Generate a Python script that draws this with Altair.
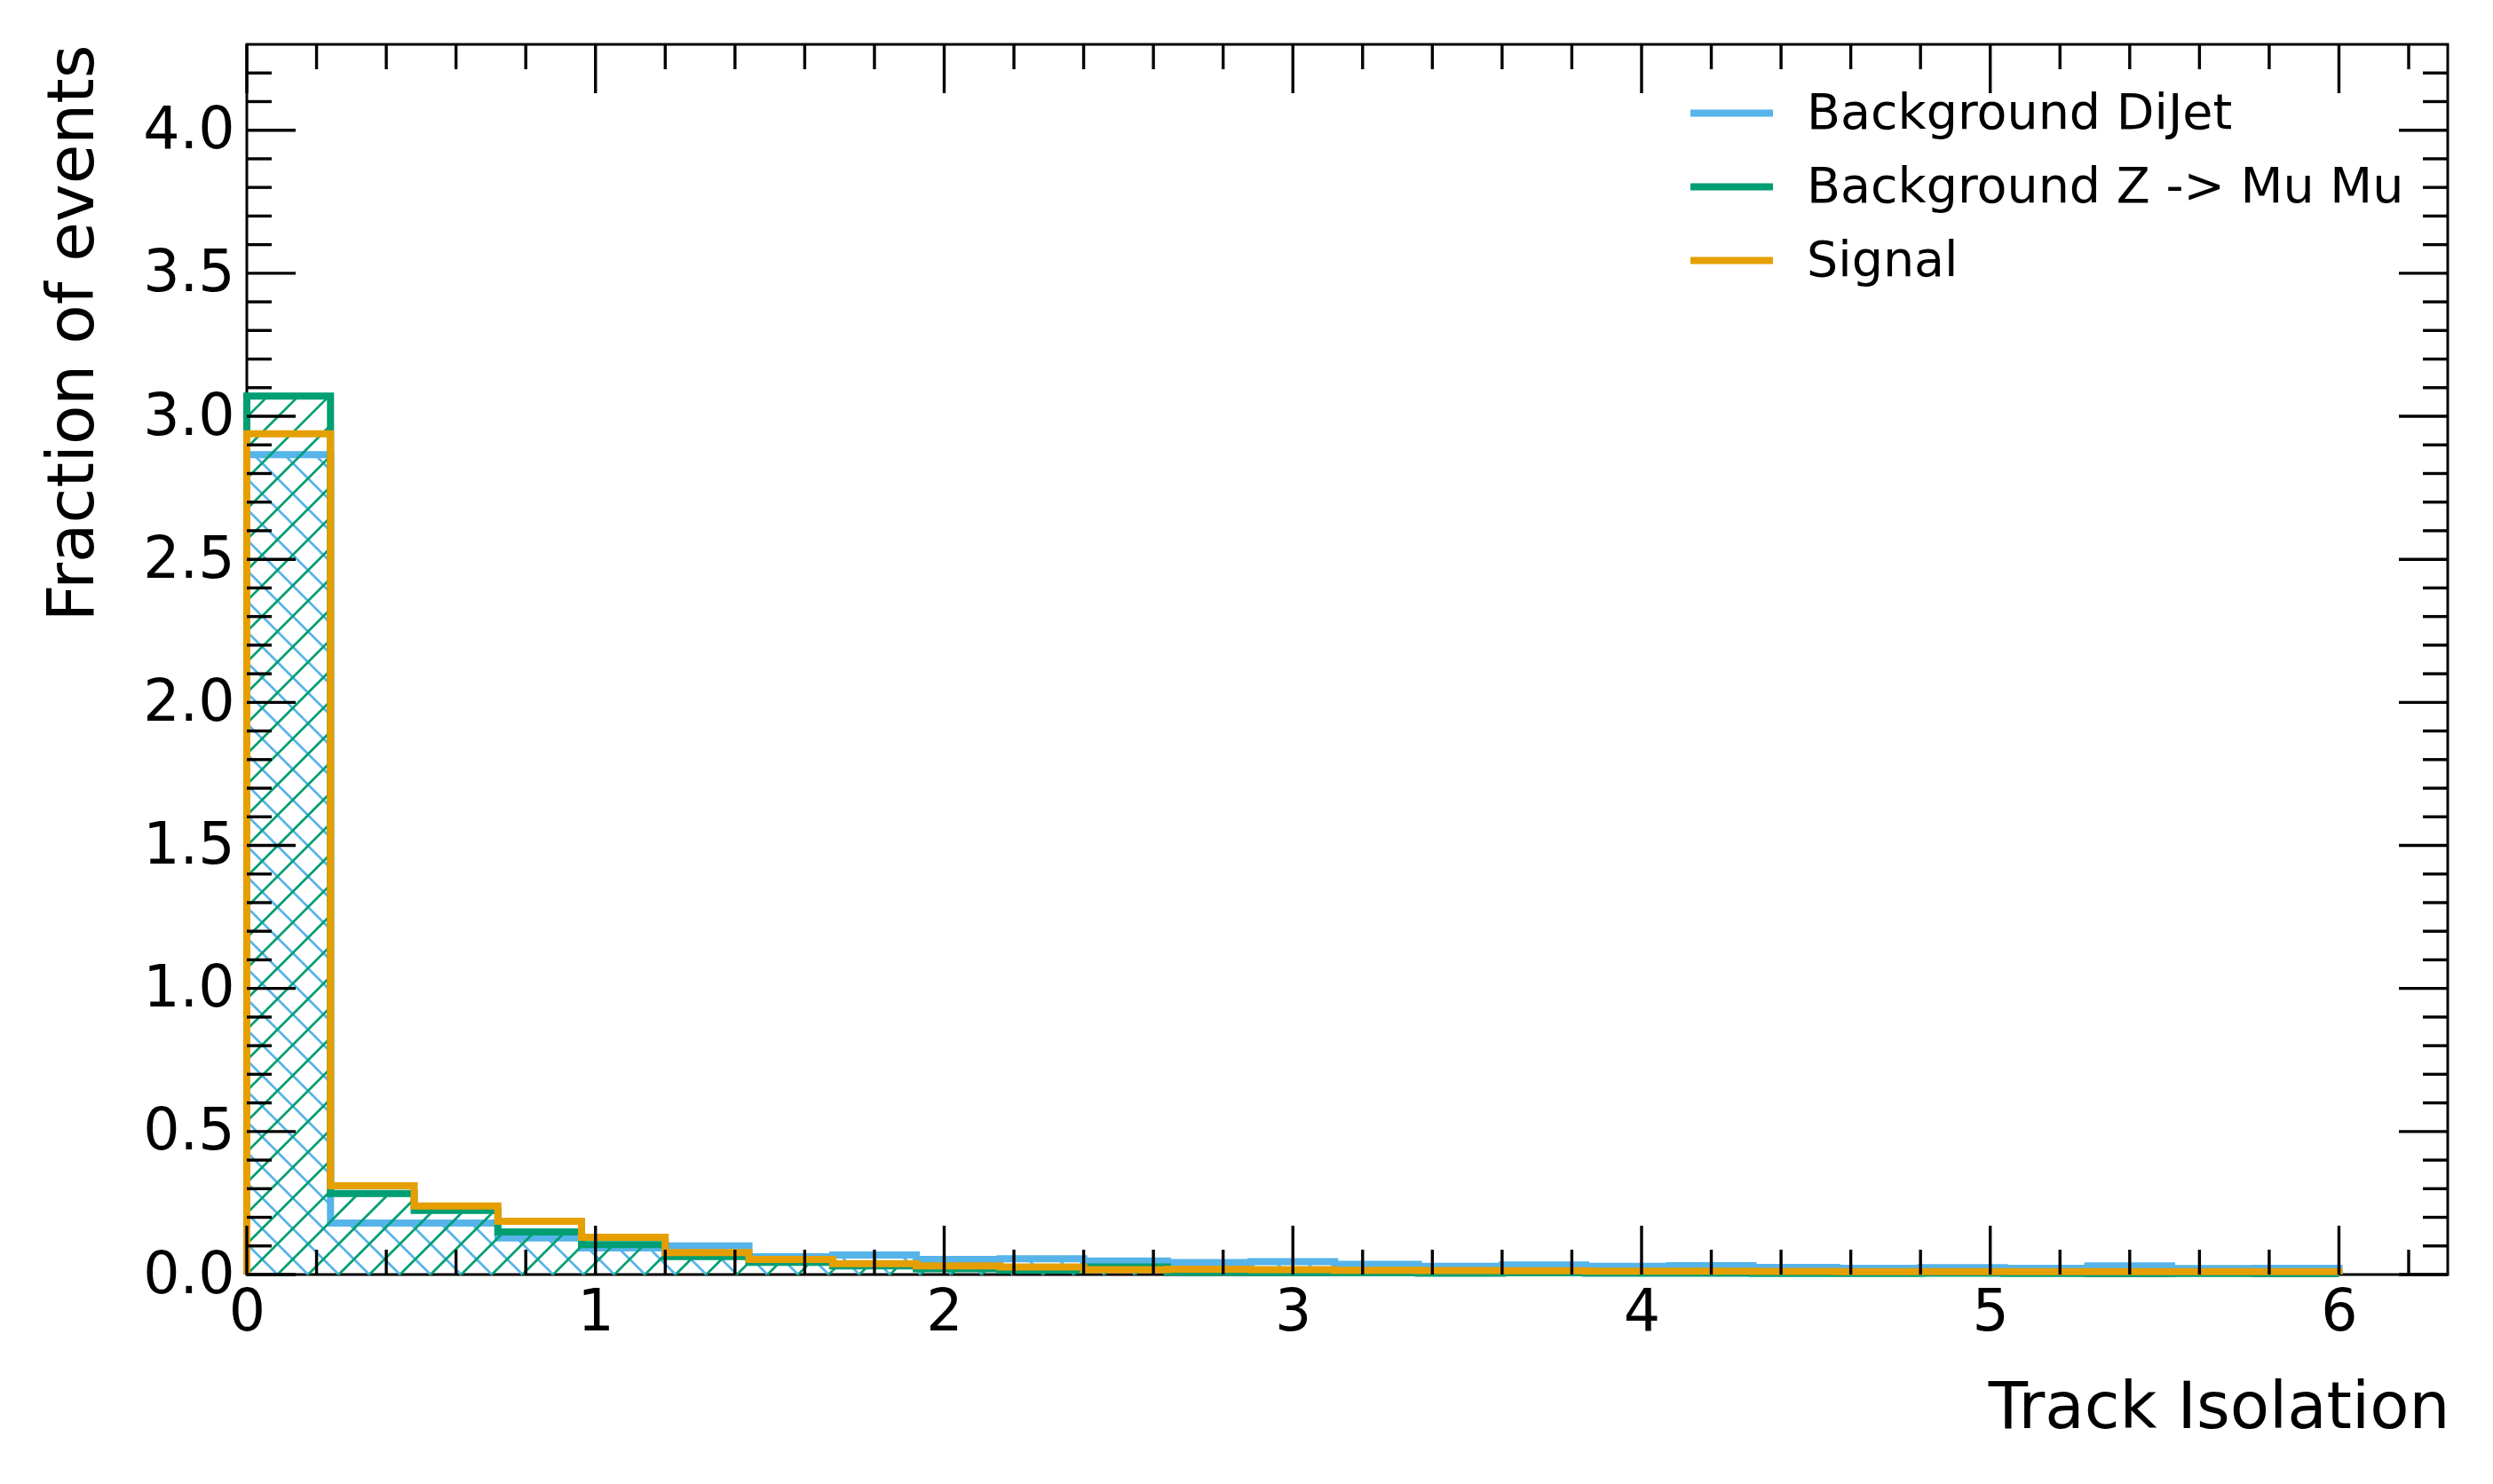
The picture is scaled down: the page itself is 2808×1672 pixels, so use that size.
import math
import altair as alt
import pandas as pd

# ---------------- data ----------------
bin_edges = [0.00, 0.24, 0.48, 0.72, 0.96, 1.20, 1.44, 1.68, 1.92, 2.16, 2.40,
             2.64, 2.88, 3.12, 3.36, 3.60, 3.84, 4.08, 4.32, 4.56, 4.80,
             5.04, 5.28, 5.52, 5.76, 6.00]

dijet = [2.866, 0.180, 0.180, 0.128, 0.093, 0.100, 0.062, 0.068, 0.053, 0.055,
         0.047, 0.042, 0.045, 0.036, 0.029, 0.033, 0.029, 0.031, 0.025, 0.022,
         0.024, 0.022, 0.030, 0.021, 0.022]
zmumu = [3.071, 0.283, 0.224, 0.149, 0.105, 0.063, 0.043, 0.030, 0.020, 0.015,
         0.026, 0.008, 0.007, 0.006, 0.005, 0.006, 0.005, 0.005, 0.004, 0.004,
         0.005, 0.004, 0.003, 0.004, 0.003]
signal = [2.939, 0.310, 0.240, 0.186, 0.130, 0.077, 0.053, 0.038, 0.030, 0.026,
          0.017, 0.019, 0.017, 0.015, 0.014, 0.013, 0.012, 0.012, 0.011, 0.010,
          0.010, 0.010, 0.010, 0.010, 0.010]

names = ["Background DiJet", "Background Z -> Mu Mu", "Signal"]
colors = ["#56B4E9", "#009E73", "#E69F00"]

x_major = [0, 1, 2, 3, 4, 5, 6]
x_minor = [0.2, 0.4, 0.6, 0.8, 1.2, 1.4, 1.6, 1.8, 2.2, 2.4, 2.6, 2.8,
           3.2, 3.4, 3.6, 3.8, 4.2, 4.4, 4.6, 4.8, 5.2, 5.4, 5.6, 5.8, 6.2]
y_major = [0.0, 0.5, 1.0, 1.5, 2.0, 2.5, 3.0, 3.5, 4.0]
y_minor = [0.1, 0.2, 0.3, 0.4, 0.6, 0.7, 0.8, 0.9, 1.1, 1.2, 1.3, 1.4,
           1.6, 1.7, 1.8, 1.9, 2.1, 2.2, 2.3, 2.4, 2.6, 2.7, 2.8, 2.9,
           3.1, 3.2, 3.3, 3.4, 3.6, 3.7, 3.8, 3.9, 4.1, 4.2]

X_MAX = 6.312
Y_MAX = 4.3

# ---------------- layout / style ----------------
W = 2479
H = 1386
FONT = "DejaVu Sans"
LW = 8
HATCH_W = 2.7
HATCH_SPACING = 34.5
TICK_MAJ = 55
TICK_MIN = 28
TICK_W = 3.4

sx = W / X_MAX
sy = H / Y_MAX

xs = alt.Scale(domain=[0, X_MAX], nice=False, zero=False)
ys = alt.Scale(domain=[0, Y_MAX], nice=False, zero=False)
cs = alt.Scale(domain=names, range=colors)

XAX = alt.Axis(
    values=x_major, format="d", labelFont=FONT, labelFontSize=65,
    labelColor="black", labelPadding=11, labelFlush=False,
    ticks=False, domain=False, grid=False,
    title="Track Isolation", titleFont=FONT, titleFontSize=72.5,
    titleFontWeight="normal", titleColor="black",
    titleAlign="right", titleBaseline="alphabetic",
    titleX=W + 2, titleY=172,
)
YAX = alt.Axis(
    values=y_major, format=".1f", labelFont=FONT, labelFontSize=65,
    labelColor="black", labelPadding=14, labelFlush=False,
    ticks=False, domain=False, grid=False,
    title="Fraction of events", titleFont=FONT, titleFontSize=72.5,
    titleFontWeight="normal", titleColor="black",
    titleAngle=270, titleAlign="right", titleBaseline="alphabetic",
    titleX=-174, titleY=0,
)


def outline_df(vals, name):
    rows = [{"x": 0.0, "y": 0.0, "o": 0, "series": name}]
    for i, v in enumerate(vals):
        rows.append({"x": bin_edges[i], "y": v, "o": i + 1, "series": name})
    rows.append({"x": bin_edges[-1], "y": 0.0, "o": len(vals) + 1, "series": name})
    return pd.DataFrame(rows)


def hatch_df(vals, direction):
    s = HATCH_SPACING
    segs = []
    for i, v in enumerate(vals):
        a = bin_edges[i] * sx
        b = bin_edges[i + 1] * sx
        t = v * sy
        if direction == "/":
            for k in range(math.floor((a - t) / s) - 1, math.ceil(b / s) + 2):
                c = k * s
                lo = max(0.0, a - c)
                hi = min(t, b - c)
                if hi > lo:
                    segs.append((lo + c, lo, hi + c, hi))
        else:
            for k in range(math.floor(a / s) - 1, math.ceil((b + t) / s) + 2):
                c = k * s
                lo = max(0.0, c - b)
                hi = min(t, c - a)
                if hi > lo:
                    segs.append((c - lo, lo, c - hi, hi))
    return pd.DataFrame(
        [{"x": p[0] / sx, "y": p[1] / sy, "x2": p[2] / sx, "y2": p[3] / sy} for p in segs]
    )


def hatch_layer(vals, direction, color):
    return alt.Chart(hatch_df(vals, direction)).mark_rule(
        color=color, strokeWidth=HATCH_W, strokeCap="butt"
    ).encode(
        x=alt.X("x:Q", scale=xs, axis=XAX),
        y=alt.Y("y:Q", scale=ys, axis=YAX),
        x2="x2:Q",
        y2="y2:Q",
    )


legend = alt.Legend(
    title=None,
    orient="none",
    legendX=1622,
    legendY=27,
    symbolType="stroke",
    symbolSize=8649,
    symbolStrokeWidth=8,
    labelFont=FONT,
    labelFontSize=55.5,
    labelOffset=34,
    labelLimit=2000,
    rowPadding=4,
    padding=0,
)


def outline_layer(vals, name):
    return alt.Chart(outline_df(vals, name)).mark_line(
        interpolate="step-after", strokeWidth=LW, strokeJoin="miter"
    ).encode(
        x=alt.X("x:Q", scale=xs, axis=XAX),
        y=alt.Y("y:Q", scale=ys, axis=YAX),
        order=alt.Order("o:Q"),
        color=alt.Color("series:N", scale=cs, legend=legend),
    )


def tick_layers(vals, length, axis_dir):
    df = pd.DataFrame({"v": vals})
    base = alt.Chart(df).mark_rule(color="black", strokeWidth=TICK_W, strokeCap="butt")
    if axis_dir == "x":
        bottom = base.encode(x=alt.X("v:Q", scale=xs, axis=XAX),
                             y=alt.value(H), y2=alt.value(H - length))
        top = base.encode(x=alt.X("v:Q", scale=xs, axis=XAX),
                          y=alt.value(0), y2=alt.value(length))
        return [bottom, top]
    left = base.encode(y=alt.Y("v:Q", scale=ys, axis=YAX),
                       x=alt.value(0), x2=alt.value(length))
    right = base.encode(y=alt.Y("v:Q", scale=ys, axis=YAX),
                        x=alt.value(W), x2=alt.value(W - length))
    return [left, right]


layers = [
    hatch_layer(dijet, "\\", colors[0]),
    outline_layer(dijet, names[0]),
    hatch_layer(zmumu, "/", colors[1]),
    outline_layer(zmumu, names[1]),
    outline_layer(signal, names[2]),
]
layers += tick_layers(x_major, TICK_MAJ, "x")
layers += tick_layers(x_minor, TICK_MIN, "x")
layers += tick_layers(y_major, TICK_MAJ, "y")
layers += tick_layers(y_minor, TICK_MIN, "y")

chart = alt.layer(*layers).properties(
    width=W,
    height=H,
    autosize=alt.AutoSizeParams(type="none"),
    padding={"left": 270, "top": 42, "right": 36, "bottom": 210},
    background="white",
).configure_view(
    stroke="black",
    strokeWidth=3,
)

chart.save("out.html", embed_options={"renderer": "svg", "actions": False})
